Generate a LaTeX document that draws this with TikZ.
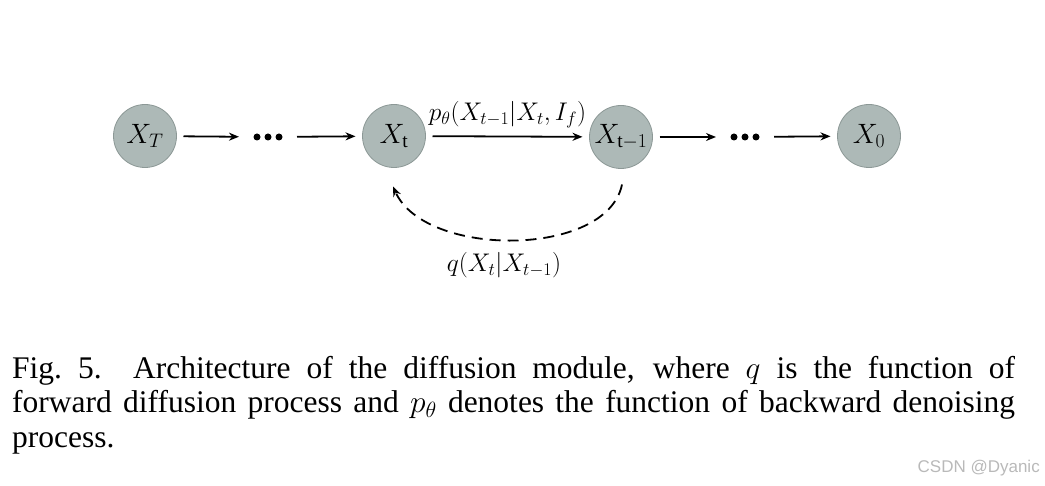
\RequirePackage{fix-cm}
\documentclass[tikz,border=0pt]{standalone}
\usepackage{fontspec}
\setmainfont{Liberation Serif}
\newfontfamily\wmfont{Liberation Sans}
\usetikzlibrary{arrows.meta,calc}
\definecolor{nodefill}{RGB}{173,185,183}
\definecolor{nodeedge}{RGB}{140,152,150}
\definecolor{wmgray}{RGB}{185,185,185}
\begin{document}
\begin{tikzpicture}[x=1pt,y=-1pt,
  state/.style={circle,draw=nodeedge,line width=0.8pt,fill=nodefill,minimum size=63pt,inner sep=0pt,outer sep=7pt,font=\fontsize{28}{32}\selectfont},
  dotsbox/.style={minimum width=30pt,minimum height=8pt,inner sep=0pt,outer sep=14pt},
  arr/.style={line width=1.8pt,-{Stealth[length=10pt,width=8pt]}},
  dasharr/.style={line width=1.8pt,dash pattern=on 11pt off 7pt,-{Stealth[length=10pt,width=8pt]}},
  lbl/.style={font=\fontsize{25.5}{30}\selectfont,inner sep=0pt},
  caption/.style={anchor=north west,inner sep=0pt,text width=1003pt,align=justify,font=\fontsize{31.5}{34.5}\selectfont},
  dot/.style={fill=black}]
\useasboundingbox (0,0) rectangle (1045,486);
% nodes
\node[state] (XT) at (145,136) {$X_T$};
\node[dotsbox] (d1) at (268,137) {};
\node[state] (Xt) at (394,136) {$X_{\mathrm{t}}$};
\node[state] (X1) at (621,137) {$X_{\mathrm{t}-1}$};
\node[dotsbox] (d2) at (745,137) {};
\node[state] (X0) at (869,136) {$X_0$};
% dots
\foreach \d in {d1,d2}{
  \fill[dot] ($(\d.center)+(-11,0)$) circle (3.5);
  \fill[dot] (\d.center) circle (3.5);
  \fill[dot] ($(\d.center)+(11,0)$) circle (3.5);
}
% arrows
\draw[arr] (XT) -- (d1);
\draw[arr] (d1) -- (Xt);
\draw[arr] (Xt) -- node[lbl,above=8pt] (pl) {$p_\theta(X_{t-1}|X_t,I_f)$} (X1);
\draw[arr] (X1) -- (d2);
\draw[arr] (d2) -- (X0);
% dashed backward curve
\coordinate (qa) at ($(X1.south)+(1,9)$);
\coordinate (qb) at ($(Xt.south)+(-1,12)$);
\draw[dasharr] (qa) .. controls (607,258) and (425,258) .. (qb);
\node[lbl] (ql) at (504,265) {$q(X_t|X_{t-1})$};
% caption
\node[caption] (cap) at (12,356) {Fig.~5.\quad Architecture of the diffusion module, where $q$ is the function of\linebreak forward diffusion process and $p_\theta$ denotes the function of backward denoising\linebreak process.};
% watermark
\node[anchor=base east,inner sep=0pt,text=wmgray,font=\wmfont\fontsize{17}{20}\selectfont] (wm) at (1040,472) {CSDN @Dyanic};
\end{tikzpicture}
\end{document}
